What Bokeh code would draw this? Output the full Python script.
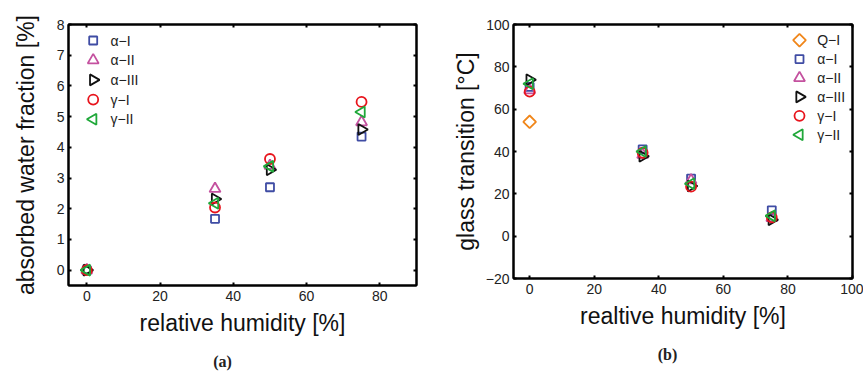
import math
from bokeh.plotting import figure
from bokeh.layouts import row
from bokeh.models import (LinearAxis, FixedTicker, Label, CustomJSTickFormatter, Range1d)
from bokeh.core.properties import value
from bokeh.embed import file_html
from bokeh.resources import INLINE

# ---------------- data ----------------
rh = [0, 35, 50, 75]
rh_q = [0]

# (a) absorbed water fraction [%]
wa_alpha1 = [0.0, 1.67, 2.70, 4.35]
wa_alpha2 = [0.0, 2.65, 3.40, 4.82]
wa_alpha3 = [0.0, 2.32, 3.27, 4.58]
wa_gamma1 = [0.0, 2.04, 3.62, 5.48]
wa_gamma2 = [0.0, 2.18, 3.38, 5.15]

# (b) glass transition [°C]
tg_q1 = [54.0]
tg_alpha1 = [70.5, 41.0, 27.2, 12.2]
tg_alpha2 = [69.0, 38.5, 26.4, 8.6]
tg_alpha3 = [73.9, 37.8, 23.7, 7.8]
tg_gamma1 = [68.3, 39.4, 23.4, 8.9]
tg_gamma2 = [72.0, 40.0, 24.8, 9.6]

labels_a = ["α−I", "α−II", "α−III", "γ−I", "γ−II"]
labels_b = ["Q−I", "α−I", "α−II", "α−III", "γ−I", "γ−II"]

xticks_a = [0, 20, 40, 60, 80]
yticks_a = [0, 1, 2, 3, 4, 5, 6, 7, 8]
xticks_b = [0, 20, 40, 60, 80, 100]
yticks_b = [-20, 0, 20, 40, 60, 80, 100]

# ---------------- style ----------------
FONT = "Liberation Sans"
C_BLUE = "#3f4ca4"
C_MAG = "#c4519f"
C_BLK = "#111111"
C_RED = "#e8141c"
C_GRN = "#20a83a"
C_ORG = "#f0861a"
LW = 1.8

styles = {
    "α−I": dict(marker="square", size=8, color=C_BLUE, angle=0.0),
    "α−II": dict(marker="triangle", size=11, color=C_MAG, angle=0.0),
    "α−III": dict(marker="triangle", size=11, color=C_BLK, angle=-math.pi / 2),
    "γ−I": dict(marker="circle", size=10, color=C_RED, angle=0.0),
    "γ−II": dict(marker="triangle", size=11, color=C_GRN, angle=math.pi / 2),
    "Q−I": dict(marker="square", size=9, color=C_ORG, angle=math.pi / 4),
}


def style_axis(ax, ticks, labels=True):
    ax.ticker = FixedTicker(ticks=ticks)
    ax.minor_tick_line_color = None
    ax.major_tick_in = 3
    ax.major_tick_out = 0
    ax.major_tick_line_width = 2
    ax.major_tick_line_color = "black"
    ax.axis_line_width = 2
    ax.axis_line_color = "black"
    ax.major_label_text_font = FONT
    ax.major_label_text_font_size = "14px"
    ax.major_label_text_color = "#222222"
    ax.major_label_overrides = {t: str(t).replace("-", "−") for t in ticks if t < 0}
    ax.axis_label_text_font = FONT
    ax.axis_label_text_font_size = "23px"
    ax.axis_label_text_font_style = "normal"
    ax.axis_label_text_color = "#111111"
    if not labels:
        ax.formatter = CustomJSTickFormatter(code="return ''")
        ax.major_label_overrides = {}
        ax.major_label_standoff = 0


def make_fig(width, height, xr, yr, borders):
    left, right, top, bottom = borders
    p = figure(width=width, height=height, output_backend="svg",
               toolbar_location=None, x_range=Range1d(*xr), y_range=Range1d(*yr),
               min_border_left=left, min_border_right=right,
               min_border_top=top, min_border_bottom=bottom)
    p.xgrid.visible = False
    p.ygrid.visible = False
    p.outline_line_color = "black"
    p.outline_line_width = 2
    p.background_fill_color = "white"
    p.border_fill_color = "white"
    # legend layout space: frame pixels, y measured downward from the frame top
    fw = width - left - right
    fh = height - top - bottom
    p.extra_x_ranges = {"lx": Range1d(0, fw)}
    p.extra_y_ranges = {"ly": Range1d(fh, 0)}
    return p


def add_series(p, x, y, name):
    st = styles[name]
    return p.scatter(x, y, marker=st["marker"], size=st["size"], angle=st["angle"],
                     fill_color=None, line_color=st["color"], line_width=LW)


def add_legend(p, names, mx, tx, y0, pitch):
    for i, nm in enumerate(names):
        st = styles[nm]
        yy = y0 + i * pitch
        p.scatter([mx], [yy], x_range_name="lx", y_range_name="ly",
                  marker=st["marker"], size=st["size"], angle=st["angle"],
                  fill_color=None, line_color=st["color"], line_width=LW)
    ys = [y0 + i * pitch for i in range(len(names))]
    p.text([tx] * len(names), ys, text=names, x_range_name="lx", y_range_name="ly",
           text_font=value(FONT), text_font_size="14px", text_color="#222222",
           text_baseline="middle", text_align="left")


def finish_axes(p, xticks, yticks, xlabel, ylabel, ylab_standoff):
    style_axis(p.xaxis[0], xticks)
    style_axis(p.yaxis[0], yticks)
    p.xaxis[0].axis_label = xlabel
    p.yaxis[0].axis_label = ylabel
    p.xaxis[0].major_label_standoff = 5
    p.yaxis[0].major_label_standoff = 4
    p.xaxis[0].axis_label_standoff = 6
    p.yaxis[0].axis_label_standoff = ylab_standoff
    top = LinearAxis()
    right = LinearAxis()
    style_axis(top, xticks, labels=False)
    style_axis(right, yticks, labels=False)
    p.add_layout(top, "above")
    p.add_layout(right, "right")


def add_caption(p, text, x, y):
    p.add_layout(Label(x=x, y=y, x_units="screen", y_units="screen", text=text,
                       text_align="center", text_baseline="middle",
                       text_font="Liberation Serif", text_font_style="bold",
                       text_font_size="16px", text_color="#222222"), "below")


# ---------------- panel (a) ----------------
pa = make_fig(430, 372, (-5, 90), (-0.5, 8), (68, 14, 24, 87))
for ys, nm in zip([wa_alpha1, wa_alpha2, wa_alpha3, wa_gamma1, wa_gamma2], labels_a):
    add_series(pa, rh, ys, nm)
finish_axes(pa, xticks_a, yticks_a, "relative humidity [%]",
            "absorbed water fraction [%]", 15)
add_legend(pa, labels_a, 24.7, 42, 16, 19.7)
add_caption(pa, "(a)", 154, -6)

# ---------------- panel (b) ----------------
pb = make_fig(433, 365, (-5, 100), (-20, 100), (83, 11, 24, 87))
add_series(pb, rh_q, tg_q1, "Q−I")
for ys, nm in zip([tg_alpha1, tg_alpha2, tg_alpha3, tg_gamma1, tg_gamma2], labels_b[1:]):
    add_series(pb, rh, ys, nm)
finish_axes(pb, xticks_b, yticks_b, "realtive humidity [%]",
            "glass transition [°C]", 4)
add_legend(pb, labels_b, 286, 303.7, 15.7, 18.9)
add_caption(pb, "(b)", 154, -6)

layout = row(pa, pb)
open("out.html", "w").write(file_html(layout, INLINE))
